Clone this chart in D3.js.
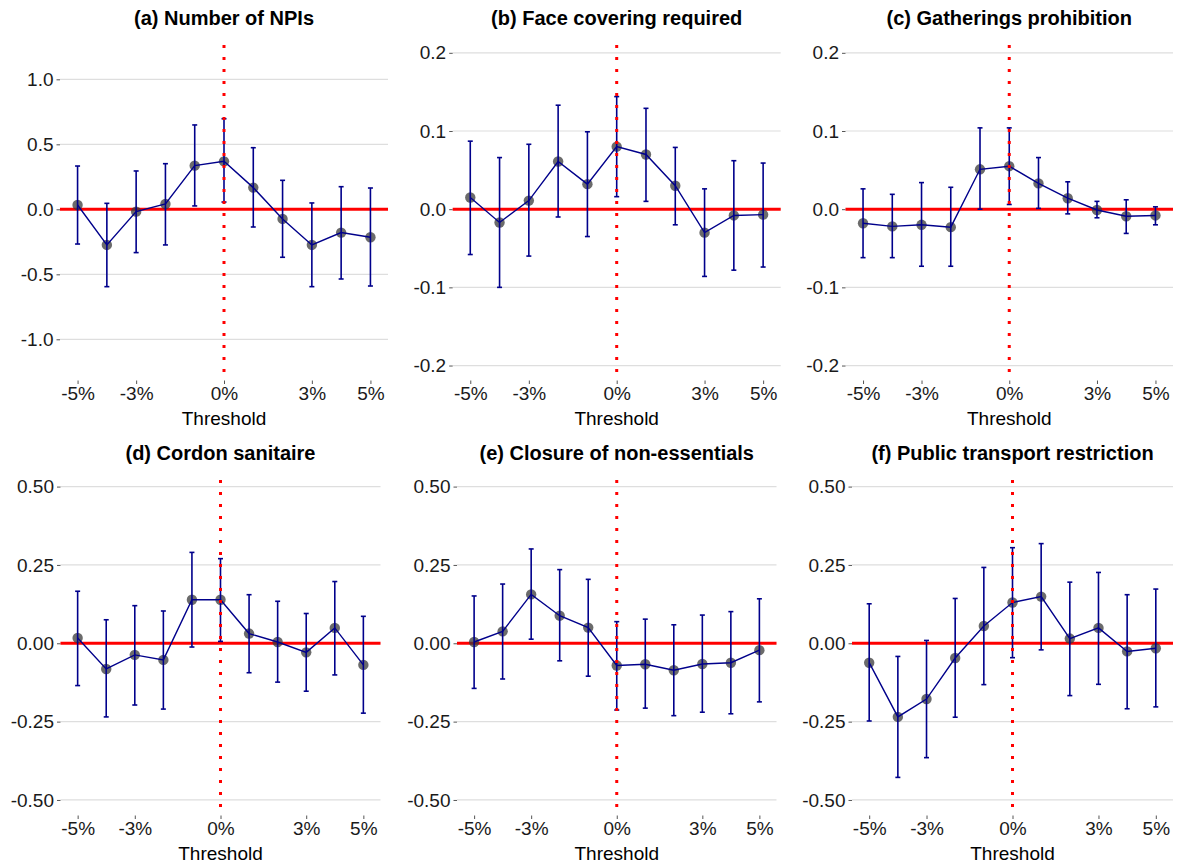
<!DOCTYPE html>
<html>
<head>
  <meta charset="utf-8">
  <script src="https://cdn.jsdelivr.net/npm/d3@7/dist/d3.min.js"></script>
  <style>
    body { margin: 0; background: #fff; }
    svg { font-family: "Liberation Sans", Arial, sans-serif; }
    .grid { stroke: #dedede; stroke-width: 1.2; }
    .tick line { stroke: #555; }
    .tick text { fill: #1a1a1a; font-size: 19px; }
    .domain { display: none; }
  </style>
</head>
<body>
<script>
  const w = 1178;
  const h = 864;

  // threshold positions (%)
  const thresholds = [-5, -4, -3, -2, -1, 0, 1, 2, 3, 4, 5];
  const xTickValues = [-5, -3, 0, 3, 5];

  const titles = [
    "(a) Number of NPIs",
    "(b) Face covering required",
    "(c) Gatherings prohibition",
    "(d) Cordon sanitaire",
    "(e) Closure of non-essentials",
    "(f) Public transport restriction"
  ];

  // estimates, lower and upper bounds per panel
  const estA = [0.033, -0.274, -0.018, 0.041, 0.336, 0.369, 0.167, -0.074, -0.274, -0.179, -0.215];
  const lowA = [-0.267, -0.595, -0.333, -0.274, 0.026, 0.056, -0.136, -0.369, -0.595, -0.536, -0.590];
  const upA  = [0.333, 0.046, 0.295, 0.351, 0.649, 0.697, 0.474, 0.223, 0.049, 0.174, 0.164];

  const estB = [0.015, -0.017, 0.011, 0.061, 0.032, 0.080, 0.070, 0.030, -0.030, -0.008, -0.007];
  const lowB = [-0.058, -0.100, -0.060, -0.010, -0.035, 0.016, 0.010, -0.020, -0.086, -0.078, -0.074];
  const upB  = [0.087, 0.066, 0.083, 0.133, 0.099, 0.144, 0.129, 0.079, 0.026, 0.062, 0.059];

  const estC = [-0.018, -0.022, -0.020, -0.023, 0.051, 0.055, 0.033, 0.014, -0.001, -0.009, -0.008];
  const lowC = [-0.062, -0.062, -0.073, -0.073, 0.000, 0.006, 0.001, -0.006, -0.011, -0.031, -0.020];
  const upC  = [0.026, 0.019, 0.034, 0.028, 0.104, 0.104, 0.066, 0.035, 0.010, 0.012, 0.003];

  const estD = [0.017, -0.082, -0.037, -0.053, 0.139, 0.139, 0.031, 0.004, -0.029, 0.049, -0.069];
  const lowD = [-0.135, -0.235, -0.197, -0.210, -0.012, 0.006, -0.094, -0.124, -0.153, -0.101, -0.223];
  const upD  = [0.166, 0.075, 0.120, 0.103, 0.290, 0.270, 0.155, 0.134, 0.095, 0.197, 0.086];

  const estE = [0.004, 0.038, 0.156, 0.088, 0.050, -0.071, -0.067, -0.086, -0.066, -0.062, -0.022];
  const lowE = [-0.144, -0.114, 0.013, -0.056, -0.105, -0.213, -0.207, -0.231, -0.220, -0.225, -0.187];
  const upE  = [0.151, 0.189, 0.301, 0.235, 0.204, 0.069, 0.077, 0.059, 0.090, 0.101, 0.142];

  const estF = [-0.062, -0.235, -0.178, -0.047, 0.055, 0.130, 0.149, 0.015, 0.049, -0.026, -0.016];
  const lowF = [-0.248, -0.428, -0.365, -0.236, -0.132, -0.046, -0.021, -0.167, -0.131, -0.209, -0.203];
  const upF  = [0.126, -0.042, 0.009, 0.143, 0.242, 0.305, 0.318, 0.195, 0.226, 0.155, 0.173];

  const yTicksA = [-1.0, -0.5, 0.0, 0.5, 1.0];
  const yTicksBC = [-0.2, -0.1, 0.0, 0.1, 0.2];
  const yTicksDEF = [-0.50, -0.25, 0.00, 0.25, 0.50];

  // panel layout: plot area in pixels
  const panels = [
    { est: estA, low: lowA, up: upA, ticks: yTicksA, fmt: ".1f", dom: [-1.313, 1.264], x0: 60, x1: 388, top: 45 },
    { est: estB, low: lowB, up: upB, ticks: yTicksBC, fmt: ".1f", dom: [-0.2185, 0.21], x0: 452.7, x1: 780.7, top: 45 },
    { est: estC, low: lowC, up: upC, ticks: yTicksBC, fmt: ".1f", dom: [-0.2185, 0.21], x0: 845.5, x1: 1173, top: 45 },
    { est: estD, low: lowD, up: upD, ticks: yTicksDEF, fmt: ".2f", dom: [-0.548, 0.521], x0: 60.5, x1: 380.5, top: 480 },
    { est: estE, low: lowE, up: upE, ticks: yTicksDEF, fmt: ".2f", dom: [-0.548, 0.521], x0: 457, x1: 776.5, top: 480 },
    { est: estF, low: lowF, up: upF, ticks: yTicksDEF, fmt: ".2f", dom: [-0.548, 0.521], x0: 852, x1: 1173, top: 480 }
  ];
  const plotH = 335;

  const svg = d3.select("body").append("svg")
    .attr("width", w)
    .attr("height", h);

  panels.forEach(function(p, i) {
    const bottom = p.top + plotH;
    const data = thresholds.map(function(t, j) {
      return { t: t, est: p.est[j], low: p.low[j], up: p.up[j] };
    });

    const xScale = d3.scaleLinear().domain([-5.6, 5.6]).range([p.x0, p.x1]);
    const yScale = d3.scaleLinear().domain(p.dom).range([bottom, p.top]);

    const g = svg.append("g");

    // horizontal gridlines
    g.selectAll(".grid")
      .data(p.ticks)
      .enter().append("line")
      .attr("class", "grid")
      .attr("x1", p.x0).attr("x2", p.x1)
      .attr("y1", function(d) { return yScale(d); })
      .attr("y2", function(d) { return yScale(d); });

    // axes
    const fmt = d3.format(p.fmt);
    g.append("g")
      .attr("transform", "translate(" + p.x0 + ",0)")
      .call(d3.axisLeft(yScale).tickValues(p.ticks).tickSize(3.5).tickPadding(3)
        .tickFormat(function(d) { return fmt(d).replace("−", "-"); }));

    g.append("g")
      .attr("transform", "translate(0," + (bottom + 0.5) + ")")
      .call(d3.axisBottom(xScale).tickValues(xTickValues).tickSize(3.5).tickPadding(3)
        .tickFormat(function(d) { return d + "%"; }));

    // red zero line
    g.append("line")
      .attr("x1", p.x0).attr("x2", p.x1)
      .attr("y1", yScale(0)).attr("y2", yScale(0))
      .attr("stroke", "#ff0000")
      .attr("stroke-width", 3);

    // points (under the bars and line)
    g.selectAll(".pt")
      .data(data)
      .enter().append("circle")
      .attr("class", "pt")
      .attr("cx", function(d) { return xScale(d.t); })
      .attr("cy", function(d) { return yScale(d.est); })
      .attr("r", 5.2)
      .attr("fill", "#3a3a3a")
      .attr("fill-opacity", 0.75);

    // error bars
    const bars = g.selectAll(".bar")
      .data(data)
      .enter().append("g")
      .attr("class", "bar")
      .attr("stroke", "#00008b")
      .attr("stroke-width", 1.6);
    bars.append("line")
      .attr("x1", function(d) { return xScale(d.t); })
      .attr("x2", function(d) { return xScale(d.t); })
      .attr("y1", function(d) { return yScale(d.low); })
      .attr("y2", function(d) { return yScale(d.up); });
    bars.append("line")
      .attr("x1", function(d) { return xScale(d.t) - 2.5; })
      .attr("x2", function(d) { return xScale(d.t) + 2.5; })
      .attr("y1", function(d) { return yScale(d.low); })
      .attr("y2", function(d) { return yScale(d.low); });
    bars.append("line")
      .attr("x1", function(d) { return xScale(d.t) - 2.5; })
      .attr("x2", function(d) { return xScale(d.t) + 2.5; })
      .attr("y1", function(d) { return yScale(d.up); })
      .attr("y2", function(d) { return yScale(d.up); });

    // connecting line
    const line = d3.line()
      .x(function(d) { return xScale(d.t); })
      .y(function(d) { return yScale(d.est); });
    g.append("path")
      .datum(data)
      .attr("d", line)
      .attr("fill", "none")
      .attr("stroke", "#00008b")
      .attr("stroke-width", 1.4);

    // dotted vertical at threshold 0
    g.append("line")
      .attr("x1", xScale(0)).attr("x2", xScale(0))
      .attr("y1", p.top).attr("y2", bottom)
      .attr("stroke", "#ff0000")
      .attr("stroke-width", 3)
      .attr("stroke-dasharray", "3,9");

    // title
    g.append("text")
      .attr("x", (p.x0 + p.x1) / 2)
      .attr("y", p.top - 20)
      .attr("text-anchor", "middle")
      .attr("font-weight", "bold")
      .attr("font-size", "20px")
      .attr("fill", "#000")
      .text(titles[i]);

    // x axis title
    g.append("text")
      .attr("x", (p.x0 + p.x1) / 2)
      .attr("y", bottom + 45)
      .attr("text-anchor", "middle")
      .attr("font-size", "19px")
      .attr("fill", "#000")
      .text("Threshold");
  });
</script>
</body>
</html>
